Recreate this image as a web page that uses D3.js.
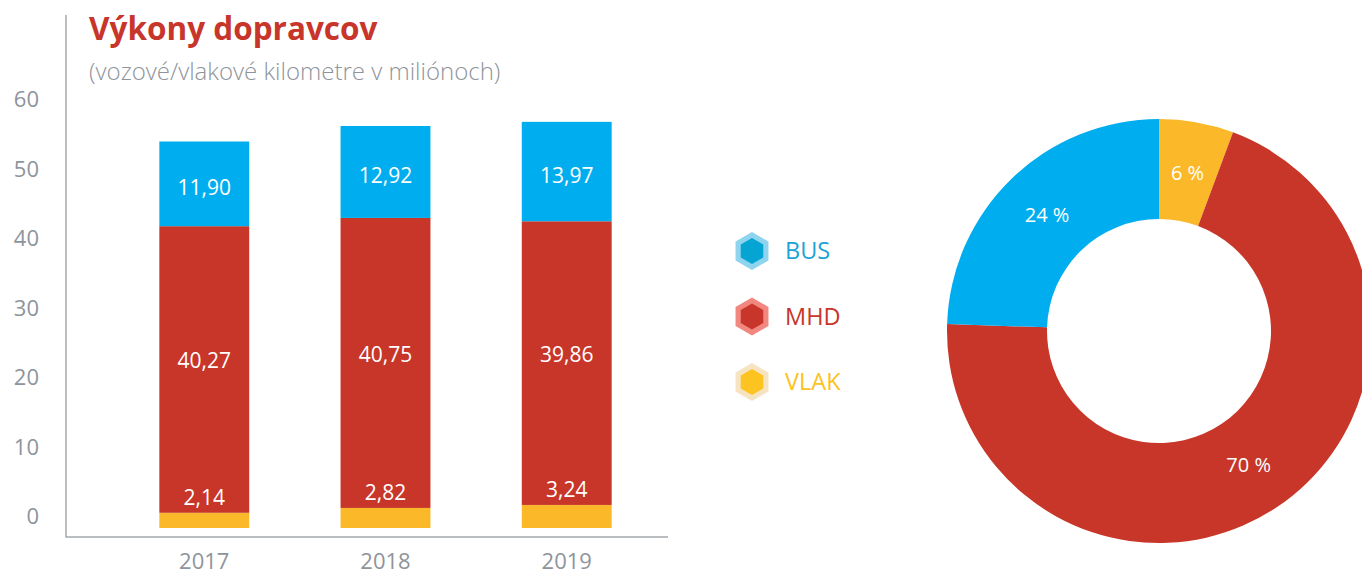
<!DOCTYPE html>
<html><head><meta charset="utf-8">
<script src="https://cdn.jsdelivr.net/npm/d3@7"></script>
<style>
html,body{margin:0;padding:0;background:#fff;}
svg{display:block;font-family:"Open Sans",sans-serif;}
</style></head>
<body>
<svg id="c" width="1362" height="577"></svg>
<script>
// ---- data ----
const years = ["2017", "2018", "2019"];
const seriesNames = ["VLAK", "MHD", "BUS"];
const vlak = [2.14, 2.82, 3.24];
const mhd = [40.27, 40.75, 39.86];
const bus = [11.90, 12.92, 13.97];
const yTicks = [0, 10, 20, 30, 40, 50, 60];
const legendNames = ["BUS", "MHD", "VLAK"];
const pieNames = ["VLAK", "MHD", "BUS"];
const pieValues = [3.24, 39.86, 13.97];   // 2019 shares
const pieLabels = ["6 %", "70 %", "24 %"];
const title = "Výkony dopravcov";
const subtitle = "(vozové/vlakové kilometre v miliónoch)";

// ---- styles ----
const fill = {BUS: "#00aeef", MHD: "#c73628", VLAK: "#fbb829"};
const legInner = {BUS: "#05a4d3", MHD: "#c8352a", VLAK: "#fdc421"};
const legOuter = {BUS: "#8ed4ee", MHD: "#f1877e", VLAK: "#f6e3c2"};
const legText = {BUS: "#1aa3d6", MHD: "#c8352a", VLAK: "#fcc220"};
const gray = "#8e949b";

const svg = d3.select("#c");

// title
svg.append("text").attr("x", 89).attr("y", 40)
  .attr("font-size", 31.5).attr("font-weight", 700).attr("fill", "#c8352a")
  .text(title);
svg.append("text").attr("x", 89).attr("y", 80)
  .attr("font-size", 24).attr("font-weight", 300).attr("fill", gray)
  .text(subtitle);

// scales
const x = d3.scaleBand().domain(years).range([68, 703]).paddingInner(0.504).paddingOuter(0.504);
const y = d3.scaleLinear().domain([0, 60]).range([528, 101]);
const yLab = d3.scaleLinear().domain([0, 60]).range([516, 99]);

// stacked data
const rows = years.map((yr, i) => ({year: yr, VLAK: vlak[i], MHD: mhd[i], BUS: bus[i]}));
const stack = d3.stack().keys(seriesNames)(rows);

svg.append("g").selectAll("g").data(stack).join("g")
  .attr("fill", d => fill[d.key])
  .selectAll("rect").data(d => d).join("rect")
  .attr("x", d => x(d.data.year))
  .attr("width", x.bandwidth())
  .attr("y", d => y(d[1]))
  .attr("height", d => y(d[0]) - y(d[1]));

// axes lines
svg.append("line").attr("x1", 66).attr("x2", 66).attr("y1", 15).attr("y2", 537.5)
  .attr("stroke", "#a3a8ad").attr("stroke-width", 1.5);
svg.append("line").attr("x1", 66).attr("x2", 668).attr("y1", 537).attr("y2", 537)
  .attr("stroke", "#a3a8ad").attr("stroke-width", 1.5);

// y tick labels
const yAxis = d3.axisLeft(yLab).tickValues(yTicks).tickSize(0).tickPadding(0);
const ya = svg.append("g").attr("transform", "translate(39,0)").call(yAxis);
ya.select(".domain").remove();
ya.selectAll("text").attr("font-size", 22).attr("fill", gray)
  .attr("font-family", "'Open Sans',sans-serif").attr("dy", "0.35em");

// x labels
const xAxis = d3.axisBottom(x).tickSize(0).tickPadding(0);
const xa = svg.append("g").attr("transform", "translate(0,561)").call(xAxis);
xa.select(".domain").remove();
xa.selectAll("text").attr("font-size", 22).attr("fill", gray)
  .attr("font-family", "'Open Sans',sans-serif").attr("dy", "0.35em");

// value labels
const fmt = v => v.toFixed(2).replace(".", ",");
const lab = svg.append("g").attr("fill", "#fff").attr("font-size", 21).attr("text-anchor", "middle");
rows.forEach((r, i) => {
  const cx = x(r.year) + x.bandwidth() / 2;
  const sBus = stack[2][i], sMhd = stack[1][i], sVlak = stack[0][i];
  lab.append("text").attr("x", cx).attr("y", y((sBus[0] + sBus[1]) / 2) + 4).attr("dy", "0.35em").text(fmt(r.BUS));
  lab.append("text").attr("x", cx).attr("y", y((sMhd[0] + sMhd[1]) / 2 + 1.2)).attr("dy", "0.35em").text(fmt(r.MHD));
  lab.append("text").attr("x", cx).attr("y", y(sVlak[1]) - 15).attr("dy", "0.35em").text(fmt(r.VLAK));
});

// legend
const hex = r => d3.range(6).map(k => {
  const a = Math.PI / 3 * k;
  return [r * Math.sin(a), -r * Math.cos(a)];
});
const leg = svg.append("g");
legendNames.forEach((n, i) => {
  const g = leg.append("g").attr("transform", `translate(752,${251 + i * 65.5})`);
  g.append("polygon").attr("points", hex(19).join(" ")).attr("fill", legOuter[n]);
  g.append("polygon").attr("points", hex(13).join(" ")).attr("fill", legInner[n]);
  g.append("text").attr("x", 33).attr("dy", "0.35em").attr("font-size", 23.5)
    .attr("fill", legText[n]).text(n);
});

// donut
const pie = d3.pie().sort(null).value(d => d.v)(pieNames.map((n, i) => ({n, v: pieValues[i], l: pieLabels[i]})));
const arc = d3.arc().innerRadius(112).outerRadius(212);
const labArc = d3.arc().innerRadius(161).outerRadius(161);
const dg = svg.append("g").attr("transform", "translate(1159,331)");
dg.selectAll("path").data(pie).join("path")
  .attr("d", arc).attr("fill", d => fill[d.data.n]);
dg.selectAll("text").data(pie).join("text")
  .attr("transform", d => `translate(${labArc.centroid(d)})`)
  .attr("text-anchor", "middle").attr("dy", "0.35em")
  .attr("font-size", 20).attr("fill", "#fff").text(d => d.data.l);
</script>
</body></html>
